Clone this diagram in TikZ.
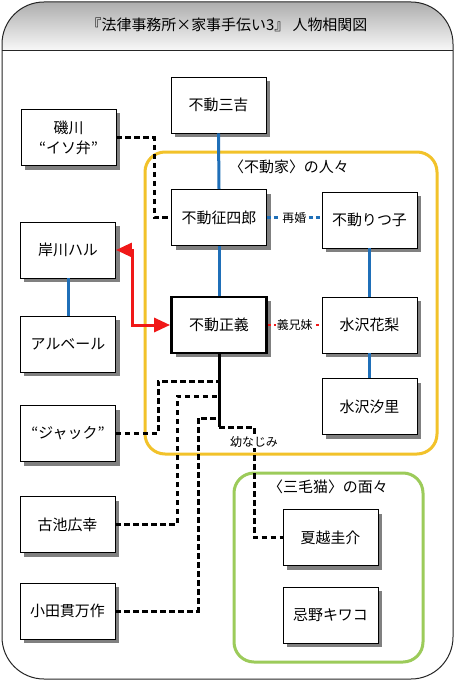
\documentclass[tikz,border=0pt]{standalone}
\usepackage{fontspec}
\setmainfont{Noto Sans CJK JP}
\usetikzlibrary{shadows,arrows.meta,calc}
\definecolor{lblue}{HTML}{1F6FB8}
\definecolor{lred}{HTML}{F01818}
\definecolor{lyellow}{HTML}{F2C22A}
\definecolor{lgreen}{HTML}{9CCB5A}
\begin{document}
\begin{tikzpicture}[x=1bp,y=-1bp,
  person/.style={draw=black, line width=0.9bp, fill=white, minimum width=95bp, minimum height=56bp,
    inner sep=0pt, align=center, font=\fontsize{15}{20}\selectfont,
    general shadow={shadow xshift=4bp, shadow yshift=-4bp, fill=black!50}},
  mainperson/.style={person, line width=2.8bp},
  blueline/.style={draw=lblue, line width=3bp},
  bluedot/.style={draw=lblue, line width=2.8bp, dash pattern=on 4bp off 3bp},
  reddot/.style={draw=lred, line width=2.2bp, dash pattern=on 3bp off 3bp},
  redarrow/.style={draw=lred, line width=3bp, {Triangle[length=16bp,width=14bp]}-{Triangle[length=16bp,width=14bp]}},
  dashline/.style={draw=black, line width=3bp, dash pattern=on 5.5bp off 3.5bp},
  blackline/.style={draw=black, line width=3bp},
  rellabel/.style={fill=white, inner sep=1bp, font=\fontsize{12}{14}\selectfont},
  grouplabel/.style={font=\fontsize{15}{18}\selectfont, inner sep=0pt},
  groupbox/.style={line width=3bp, rounded corners=20bp}
]
\useasboundingbox (0,0) rectangle (456,682);
% outer frame with header
\begin{scope}
  \clip[rounded corners=42bp] (2,2) rectangle (453,679);
  \fill[white] (2,2) rectangle (453,679);
  \shade[top color=black!32, bottom color=black!3] (2,2) rectangle (453,50);
\end{scope}
\draw[black!85, line width=0.8bp] (2,50) -- (453,50);
\draw[black!85, line width=1bp, rounded corners=42bp] (2,2) rectangle (453,679);
\node[font=\fontsize{15}{18}\selectfont, inner sep=0pt] (title) at (227,25) {『法律事務所×家事手伝い3』 人物相関図};

% groups
\draw[groupbox, lyellow] (145,152) rectangle (437,454);
\node[grouplabel] (fudoke) at (289,167) {〈不動家〉の人々};
\draw[groupbox, lgreen] (234,473) rectangle (423,662);
\node[grouplabel] (mikeneko) at (328,487) {〈三毛猫〉の面々};

% persons
\node[person] (sankichi) at (218.5,105) {不動三吉};
\node[person] (isokawa) at (68.5,137.5) {磯川\\“イソ弁”};
\node[person] (seishiro) at (219,217.5) {不動征四郎};
\node[person] (ritsuko) at (369.5,220) {不動りつ子};
\node[person] (haru) at (68,250) {岸川ハル};
\node[person] (albert) at (68,344) {アルベール};
\node[mainperson] (masayoshi) at (219,325) {不動正義};
\node[person] (karin) at (369.5,325) {水沢花梨};
\node[person] (shiori) at (369.5,406.5) {水沢汐里};
\node[person] (jack) at (68,433.5) {“ジャック”};
\node[person] (furuike) at (67.5,524.5) {古池広幸};
\node[person] (oda) at (67.5,611) {小田貫万作};
\node[person] (natsukoshi) at (330.5,537.5) {夏越圭介};
\node[person] (kiwako) at (330.5,615) {忌野キワコ};

% family lines
\draw[blueline] (sankichi.south) -- (seishiro.north);
\draw[blueline] (seishiro.south) -- (masayoshi.north);
\draw[blueline] (ritsuko.south) -- (karin.north);
\draw[blueline] (karin.south) -- (shiori.north);
\draw[blueline] (haru.south) -- (albert.north);
\draw[bluedot] (seishiro.east) -- (seishiro.east -| ritsuko.west) node[rellabel, midway] (saikon) {再婚};
\draw[reddot] (masayoshi.east) -- (karin.west) node[rellabel, midway] (gikyomai) {義兄妹};

% red arrow
\coordinate (rbend) at (132,0);
\draw[redarrow] (haru.east) -| (rbend |- masayoshi.west) -- (masayoshi.west);

% isokawa
\coordinate (ibend) at (154,0);
\draw[dashline] (isokawa.east) -| (ibend |- seishiro.west) -- (seishiro.west);

% masayoshi trunk
\coordinate (mA) at (219,381);
\coordinate (mB) at (219,396);
\coordinate (mC) at (219,418);
\coordinate (mE) at (219,427);
\draw[blackline] (masayoshi.south) -- (mE);
\coordinate (jbend) at (158,381);
\coordinate (fbend) at (177,396);
\coordinate (obend) at (198,418);
\draw[dashline] (jack.east) -| (jbend) -- (mA);
\draw[dashline] (furuike.east) -| (fbend) -- (mB);
\draw[dashline] (oda.east) -| (obend) -- (mC);
\coordinate (nbend) at (254,427);
\draw[dashline] (mE) -- (nbend) |- (natsukoshi.west);
\node[rellabel] (osana) at (254,442) {幼なじみ};
\end{tikzpicture}
\end{document}
